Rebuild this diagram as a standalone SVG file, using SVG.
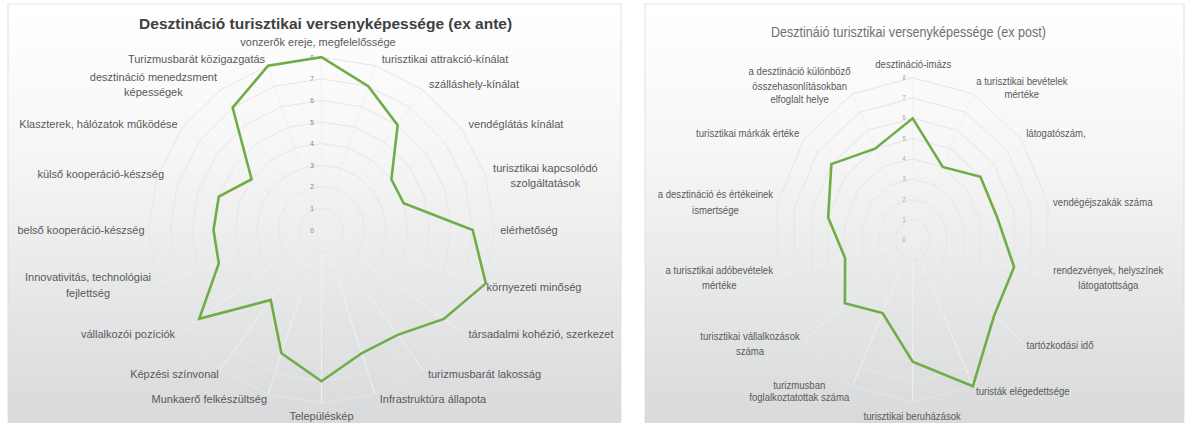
<svg xmlns="http://www.w3.org/2000/svg" xmlns:xlink="http://www.w3.org/1999/xlink" width="1188" height="423" viewBox="0 0 1188 423">
<style>
.lbl{font-family:"Liberation Sans",Arial,sans-serif;font-size:11px;fill:#595959;text-anchor:middle;dominant-baseline:central}
.rl{font-size:11.2px}
.tick{font-family:"Liberation Sans",Arial,sans-serif;font-size:6.5px;fill:#7f7f7f;text-anchor:middle;dominant-baseline:central}
.rtick{fill:#a6a6a6}
.data{fill:none;stroke:#70ad47;stroke-width:2.6;stroke-linejoin:miter;vector-effect:non-scaling-stroke}
.panel{stroke:#dcdcdc;stroke-width:0.8}
</style>
<defs>
<linearGradient id="bg" x1="0" y1="0" x2="0" y2="1">
<stop offset="0" stop-color="#ffffff"/>
<stop offset="0.35" stop-color="#f6f6f6"/>
<stop offset="1" stop-color="#d7d9da"/>
</linearGradient>
<polygon id="g20" fill="none" stroke="#e6e6e6" stroke-width="1" vector-effect="non-scaling-stroke" points="0,-1 .30902,-.95106 .58779,-.80902 .80902,-.58779 .95106,-.30902 1,0 .95106,.30902 .80902,.58779 .58779,.80902 .30902,.95106 0,1 -.30902,.95106 -.58779,.80902 -.80902,.58779 -.95106,.30902 -1,0 -.95106,-.30902 -.80902,-.58779 -.58779,-.80902 -.30902,-.95106"/>
<path id="s20" fill="none" stroke="#f0f0f0" stroke-width="1" vector-effect="non-scaling-stroke" d="M0 0L0 -1M0 0L.30902 -.95106M0 0L.58779 -.80902M0 0L.80902 -.58779M0 0L.95106 -.30902M0 0L1 0M0 0L.95106 .30902M0 0L.80902 .58779M0 0L.58779 .80902M0 0L.30902 .95106M0 0L0 1M0 0L-.30902 .95106M0 0L-.58779 .80902M0 0L-.80902 .58779M0 0L-.95106 .30902M0 0L-1 0M0 0L-.95106 -.30902M0 0L-.80902 -.58779M0 0L-.58779 -.80902M0 0L-.30902 -.95106"/>
<polygon id="g14" fill="none" stroke="#e6e6e6" stroke-width="1" vector-effect="non-scaling-stroke" points="0,-1 .43388,-.90097 .78183,-.62349 .97493,-.22252 .97493,.22252 .78183,.62349 .43388,.90097 0,1 -.43388,.90097 -.78183,.62349 -.97493,.22252 -.97493,-.22252 -.78183,-.62349 -.43388,-.90097"/>
<path id="s14" fill="none" stroke="#f0f0f0" stroke-width="1" vector-effect="non-scaling-stroke" d="M0 0L0 -1M0 0L.43388 -.90097M0 0L.78183 -.62349M0 0L.97493 -.22252M0 0L.97493 .22252M0 0L.78183 .62349M0 0L.43388 .90097M0 0L0 1M0 0L-.43388 .90097M0 0L-.78183 .62349M0 0L-.97493 .22252M0 0L-.97493 -.22252M0 0L-.78183 -.62349M0 0L-.43388 -.90097"/>
</defs>
<rect width="1188" height="423" fill="#ffffff"/>

<g id="chart-ex-ante">
<rect class="panel" x="8" y="4" width="613" height="425" fill="url(#bg)"/>
<text x="325.6" y="23.3" style="font-family:'Liberation Sans',Arial,sans-serif;font-size:15.5px;font-weight:bold;fill:#404040;text-anchor:middle;dominant-baseline:central">Desztináció turisztikai versenyképessége (ex ante)</text>
<g id="ante-grid">
<use href="#s20" transform="translate(321.5 230) scale(172.8)"/>
<use href="#g20" transform="translate(321.5 230) scale(21.6)"/>
<use href="#g20" transform="translate(321.5 230) scale(43.2)"/>
<use href="#g20" transform="translate(321.5 230) scale(64.8)"/>
<use href="#g20" transform="translate(321.5 230) scale(86.4)"/>
<use href="#g20" transform="translate(321.5 230) scale(108)"/>
<use href="#g20" transform="translate(321.5 230) scale(129.6)"/>
<use href="#g20" transform="translate(321.5 230) scale(151.2)"/>
<use href="#g20" transform="translate(321.5 230) scale(172.8)"/>
</g>
<g id="ante-ticks" class="tick">
<text x="312" y="230">0</text>
<text x="312" y="208.4">1</text>
<text x="312" y="186.8">2</text>
<text x="312" y="165.2">3</text>
<text x="312" y="143.6">4</text>
<text x="312" y="122">5</text>
<text x="312" y="100.4">6</text>
<text x="312" y="78.8">7</text>
<text x="312" y="57.2">8</text>
</g>
<polygon id="ante-series" class="data" points="321.5,57.2 368.22,86.2 397.68,125.15 391.4,179.22 403.67,203.3 472.7,230 485.84,283.4 443.82,318.87 397.68,334.85 361.55,353.26 321.5,381.2 281.45,353.26 270.72,299.9 199.18,318.87 218.79,263.37 213.5,230 218.79,196.63 251.6,179.22 232.63,107.68 268.1,65.66"/>
<g id="ante-labels" class="lbl">
<text x="318" y="42.3">vonzerők ereje, megfelelőssége</text>
<text x="445" y="59.3">turisztikai attrakció-kínálat</text>
<text x="474" y="84">szálláshely-kínálat</text>
<text x="516" y="124.3">vendéglátás kínálat</text>
<text x="545.4" y="167.7">turisztikai kapcsolódó</text>
<text x="545.4" y="182.7">szolgáltatások</text>
<text x="529" y="230">elérhetőség</text>
<text x="534" y="286.7">környezeti minőség</text>
<text x="541" y="334.3">társadalmi kohézió, szerkezet</text>
<text x="484.5" y="374">turizmusbarát lakosság</text>
<text x="433" y="399.3">Infrastruktúra állapota</text>
<text x="321.5" y="415.7">Településkép</text>
<text x="209.3" y="399.3">Munkaerő felkészültség</text>
<text x="174.5" y="374">Képzési színvonal</text>
<text x="128" y="334">vállalkozói pozíciók</text>
<text x="88" y="276.7">Innovativitás, technológiai</text>
<text x="88" y="292.7">fejlettség</text>
<text x="81" y="230">belső kooperáció-készség</text>
<text x="100.8" y="174.3">külső kooperáció-készség</text>
<text x="98.5" y="124.3">Klaszterek, hálózatok működése</text>
<text x="153.4" y="77.3">desztináció menedzsment</text>
<text x="153.4" y="91.7">képességek</text>
<text x="196.5" y="59.3">Turizmusbarát közigazgatás</text>
</g>
</g>

<g id="chart-ex-post">
<rect class="panel" x="645" y="4" width="539" height="425" fill="url(#bg)"/>
<g transform="matrix(0.855 0 0 1 132.33 0)">
<text x="907.7" y="32.3" style="font-family:'Liberation Sans',Arial,sans-serif;font-size:14.7px;fill:#707070;text-anchor:middle;dominant-baseline:central">Desztináió turisztikai versenyképessége (ex post)</text>
<g id="post-grid">
<use href="#s14" transform="translate(912.7 240) scale(162.24)"/>
<use href="#g14" transform="translate(912.7 240) scale(20.28)"/>
<use href="#g14" transform="translate(912.7 240) scale(40.56)"/>
<use href="#g14" transform="translate(912.7 240) scale(60.84)"/>
<use href="#g14" transform="translate(912.7 240) scale(81.12)"/>
<use href="#g14" transform="translate(912.7 240) scale(101.4)"/>
<use href="#g14" transform="translate(912.7 240) scale(121.68)"/>
<use href="#g14" transform="translate(912.7 240) scale(141.96)"/>
<use href="#g14" transform="translate(912.7 240) scale(162.24)"/>
</g>
<g id="post-ticks" class="tick rtick">
<text x="902.5" y="240">0</text>
<text x="902.5" y="219.72">1</text>
<text x="902.5" y="199.44">2</text>
<text x="902.5" y="179.16">3</text>
<text x="902.5" y="158.88">4</text>
<text x="902.5" y="138.6">5</text>
<text x="902.5" y="118.32">6</text>
<text x="902.5" y="98.04">7</text>
<text x="902.5" y="77.76">8</text>
</g>
<polygon id="post-series" class="data" points="912.7,118.32 947.9,166.91 991.98,176.78 1011.56,217.44 1031.33,267.08 1007.83,315.87 983.09,386.17 912.7,361.68 877.5,313.09 833.42,303.22 833.61,258.05 813.84,217.44 817.57,164.13 868.7,148.64"/>
<g id="post-labels" class="lbl rl">
<text x="913.4" y="64">desztináció-imázs</text>
<text x="1040.4" y="81">a turisztikai bevételek</text>
<text x="1040.4" y="94.3">mértéke</text>
<text x="1080.3" y="133.3">látogatószám,</text>
<text x="1135" y="202.3">vendégéjszakák száma</text>
<text x="1141.5" y="270">rendezvények, helyszínek</text>
<text x="1141.5" y="285">látogatottsága</text>
<text x="1085" y="345">tartózkodási idő</text>
<text x="1041.5" y="391.7">turisták elégedettsége</text>
<text x="912.1" y="416">turisztikai beruházások</text>
<text x="780" y="385">turizmusban</text>
<text x="780" y="397.7">foglalkoztatottak száma</text>
<text x="722.5" y="336.7">turisztikai vállalkozások</text>
<text x="722.5" y="351.7">száma</text>
<text x="686.5" y="270">a turisztikai adóbevételek</text>
<text x="686.5" y="285">mértéke</text>
<text x="682" y="194.3">a desztináció és értékeinek</text>
<text x="682" y="210">ismertsége</text>
<text x="719.7" y="133.3">turisztikai márkák értéke</text>
<text x="780.5" y="71.7">a desztináció különböző</text>
<text x="780.5" y="86">összehasonlításokban</text>
<text x="780.5" y="99.3">elfoglalt helye</text>
</g>
</g>
</g>
</svg>
